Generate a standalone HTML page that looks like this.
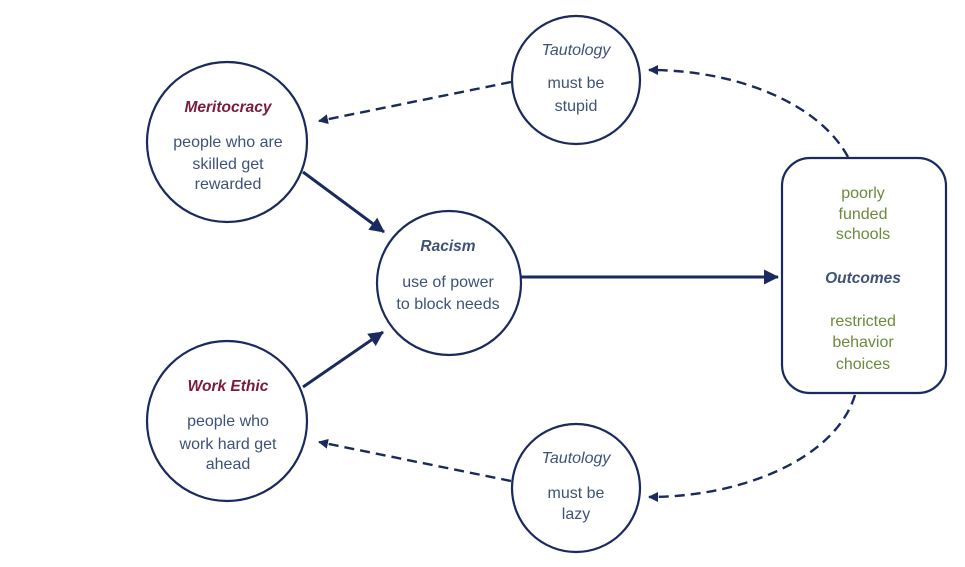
<!DOCTYPE html>
<html>
<head>
<meta charset="utf-8">
<style>
  html,body{margin:0;padding:0;background:#fff;}
  svg{display:block;}
  text{font-family:"Liberation Sans",sans-serif;font-size:16px;text-anchor:middle;}
  .b{fill:#3e5178;}
  .g{fill:#6b8a3c;}
  .r{fill:#7a1a3c;font-weight:bold;font-style:italic;font-size:15.5px;}
  .t{fill:#3e5178;font-weight:bold;font-style:italic;font-size:15.5px;}
  .ti{fill:#3e5178;font-style:italic;}
</style>
</head>
<body>
<svg width="965" height="567" viewBox="0 0 965 567" xmlns="http://www.w3.org/2000/svg">
  <defs>
    <marker id="ah" markerWidth="10" markerHeight="10" refX="9" refY="5" orient="auto" markerUnits="userSpaceOnUse">
      <path d="M0,0 L10,5 L0,10 z" fill="#1b2a5e"/>
    </marker>
    <marker id="ahs" markerWidth="15" markerHeight="15" refX="14" refY="7.5" orient="auto" markerUnits="userSpaceOnUse">
      <path d="M0,0 L15,7.5 L0,15 z" fill="#1b2a5e"/>
    </marker>
  </defs>

  <!-- solid arrows -->
  <line x1="303" y1="172" x2="384" y2="232" stroke="#1b2a5e" stroke-width="3" marker-end="url(#ahs)"/>
  <line x1="303" y1="387" x2="383" y2="332" stroke="#1b2a5e" stroke-width="3" marker-end="url(#ahs)"/>
  <line x1="521" y1="277" x2="778" y2="277" stroke="#1b2a5e" stroke-width="3" marker-end="url(#ahs)"/>

  <!-- dashed arrows -->
  <g fill="none" stroke="#1b2a5e" stroke-width="2.4" stroke-dasharray="10,6">
    <line x1="511" y1="82" x2="319" y2="121" marker-end="url(#ah)"/>
    <line x1="511" y1="481" x2="319" y2="442" marker-end="url(#ah)"/>
    <path d="M848,157 C820,105 740,70 649,70" marker-end="url(#ah)"/>
    <path d="M855,395 C835,460 740,497 649,497" marker-end="url(#ah)"/>
  </g>

  <!-- shapes -->
  <g fill="#fff" stroke="#1b2a5e" stroke-width="2.2">
    <circle cx="227" cy="142" r="80"/>
    <circle cx="227" cy="421" r="80"/>
    <circle cx="449" cy="283" r="72"/>
    <circle cx="576" cy="80" r="64"/>
    <circle cx="576" cy="488" r="64"/>
    <rect x="782" y="158" width="164" height="235" rx="28" ry="28"/>
  </g>

  <!-- Meritocracy -->
  <text class="r" x="228" y="112">Meritocracy</text>
  <text class="b" x="228" y="147">people who are</text>
  <text class="b" x="228" y="169">skilled get</text>
  <text class="b" x="228" y="189">rewarded</text>

  <!-- Work Ethic -->
  <text class="r" x="228" y="391">Work Ethic</text>
  <text class="b" x="228" y="426">people who</text>
  <text class="b" x="228" y="449">work hard get</text>
  <text class="b" x="228" y="469">ahead</text>

  <!-- Racism -->
  <text class="t" x="448" y="251">Racism</text>
  <text class="b" x="448" y="287">use of power</text>
  <text class="b" x="448" y="309">to block needs</text>

  <!-- Tautology top -->
  <text class="ti" x="576" y="55">Tautology</text>
  <text class="b" x="576" y="88">must be</text>
  <text class="b" x="576" y="111">stupid</text>

  <!-- Tautology bottom -->
  <text class="ti" x="576" y="463">Tautology</text>
  <text class="b" x="576" y="498">must be</text>
  <text class="b" x="576" y="519">lazy</text>

  <!-- Outcomes -->
  <text class="g" x="863" y="198">poorly</text>
  <text class="g" x="863" y="219">funded</text>
  <text class="g" x="863" y="239">schools</text>
  <text class="t" x="863" y="283">Outcomes</text>
  <text class="g" x="863" y="326">restricted</text>
  <text class="g" x="863" y="347">behavior</text>
  <text class="g" x="863" y="369">choices</text>
</svg>
</body>
</html>
